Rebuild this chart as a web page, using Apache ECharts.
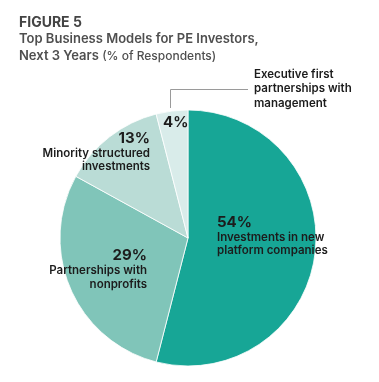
<!DOCTYPE html>
<html><head><meta charset="utf-8">
<script src="https://cdn.jsdelivr.net/npm/echarts@6/dist/echarts.min.js"></script>
<style>html,body{margin:0;padding:0;background:#fff}#c{width:379px;height:382px}</style>
</head><body><div id="c"></div>
<script>
const categories = ['Investments in new\nplatform companies', 'Partnerships with\nnonprofits', 'Minority structured\ninvestments', 'Executive first\npartnerships with\nmanagement'];
const values = [54, 29, 13, 4];
const colors = ['#17a696', '#80c5b9', '#badcd6', '#d9ecea'];
const titleLines = ['FIGURE 5', 'Top Business Models for PE Investors,', 'Next 3 Years ', '(% of Respondents)'];

// label anchor placement (x, y top, align)
const labelPos = [
  {x: 217, y: 213.5, align: 'left'},
  {x: 147, y: 247, align: 'right'},
  {x: 150, y: 129.5, align: 'right'},
  {x: 163, y: 113.5, align: 'left'}
];

const chart = echarts.init(document.getElementById('c'), null, {renderer: 'canvas'});
const textColor = '#1c1c1c';
const data = values.map((v, i) => ({
  value: v, name: categories[i], itemStyle: {color: colors[i]}
}));
chart.setOption({
  animation: false,
  title: {
    left: 14, top: 9,
    text: '{a|' + titleLines[0] + '}\n{b|' + titleLines[1] + '}\n{b|' + titleLines[2] + '}{c|' + titleLines[3] + '}',
    textStyle: {
      rich: {
        a: {fontFamily: 'Inter', fontSize: 14, fontWeight: 'bold', color: '#444444', lineHeight: 17},
        b: {fontFamily: 'Inter', fontSize: 13, fontWeight: 600, color: '#4f4f4f', lineHeight: 17},
        c: {fontFamily: 'Inter', fontSize: 12, fontWeight: 500, color: '#4f4f4f', lineHeight: 17}
      }
    }
  },
  series: [{
    type: 'pie',
    center: [188, 238],
    radius: [0, 128],
    startAngle: 90,
    clockwise: true,
    silent: true,
    itemStyle: {borderColor: '#ffffff', borderWidth: 0.8},
    label: {
      show: true,
      position: 'inside',
      formatter: p => p.dataIndex === 3 ? '{p|' + p.value + '%}' : '{p|' + p.value + '%}\n{n|' + p.name + '}',
      rich: {
        p: {fontFamily: 'Inter', fontSize: 15, fontWeight: 'bold', color: textColor, lineHeight: 17},
        n: {fontFamily: 'Inter', fontSize: 11.5, fontWeight: 600, color: textColor, lineHeight: 13.5}
      }
    },
    labelLayout: p => {
      const lp = labelPos[p.dataIndex];
      return {x: lp.x, y: lp.y, align: lp.align, verticalAlign: 'top'};
    },
    data: data
  }, {
    type: 'pie',
    center: [188, 238],
    radius: [0, 128],
    startAngle: 90,
    clockwise: true,
    silent: true,
    itemStyle: {color: 'rgba(0,0,0,0)'},
    label: {show: false},
    labelLine: {show: false},
    data: values.map((v, i) => i === 3 ? {
      value: v, name: categories[i],
      label: {show: true, position: 'outside', formatter: '{b}', fontFamily: 'Inter', fontSize: 11.5, fontWeight: 600, color: textColor, lineHeight: 14.5, align: 'left'},
      labelLine: {show: true, lineStyle: {color: '#9a9a9a', width: 1}}
    } : {value: v, name: categories[i]}),
    labelLayout: p => p.dataIndex === 3 ? {
      x: 254, y: 67, align: 'left', verticalAlign: 'top',
      labelLinePoints: [[170.5, 108], [170.5, 89.5], [248, 89.5]]
    } : {}
  }]
});
</script></body></html>
